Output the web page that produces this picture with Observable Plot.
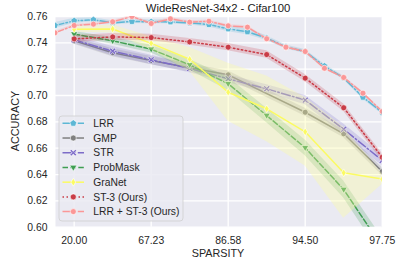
<!DOCTYPE html>
<html><head><meta charset="utf-8">
<script src="https://cdn.jsdelivr.net/npm/d3@7"></script>
<script src="https://cdn.jsdelivr.net/npm/@observablehq/plot@0.6"></script>
<style>
body{margin:0;background:#fff}
#chart{position:relative;width:407px;height:271px}
</style>
</head><body><div id="chart"></div>
<script>
// ---------- data ----------
const title = "WideResNet-34x2 - Cifar100";
const xLabel = "SPARSITY";
const yLabel = "ACCURACY";
const xTickPos = [0, 4, 8, 12, 16];
const xTickLabels = ["20.00", "67.23", "86.58", "94.50", "97.75"];
const yTicks = [0.60, 0.62, 0.64, 0.66, 0.68, 0.70, 0.72, 0.74, 0.76];
const seriesNames = ["LRR", "GMP", "STR", "ProbMask", "GraNet", "ST-3 (Ours)", "LRR + ST-3 (Ours)"];

const idxFull = [-1, 0, 1, 2, 3, 4, 5, 6, 7, 8, 9, 10, 11, 12, 13, 14, 15, 16];
const idxEven = [0, 2, 4, 6, 8, 10, 12, 14, 16];
const idxGMP  = [0, 2, 4, 6, 8, 12, 14, 16];

const accLRR = [0.7532, 0.7567, 0.7575, 0.7552, 0.7562, 0.7560, 0.7559, 0.7551, 0.7539, 0.7506, 0.7484, 0.7436, 0.7369, 0.7334, 0.7223, 0.7134, 0.6987, 0.6871];
const errLRR = [0.0022, 0.0020, 0.0015, 0.0015, 0.0015, 0.0015, 0.0015, 0.0015, 0.0018, 0.0022, 0.0022, 0.0018, 0.0015, 0.0015, 0.0015, 0.0015, 0.0015, 0.0015];

const accLRRST3 = [0.7476, 0.7532, 0.7542, 0.7560, 0.7600, 0.7547, 0.7582, 0.7557, 0.7564, 0.7529, 0.7519, 0.7431, 0.7367, 0.7334, 0.7207, 0.7137, 0.7018, 0.6879];
const errLRRST3 = [0.0010, 0.0010, 0.0010, 0.0010, 0.0010, 0.0010, 0.0010, 0.0010, 0.0010, 0.0010, 0.0010, 0.0010, 0.0010, 0.0010, 0.0010, 0.0010, 0.0010, 0.0010];

const accST3 = [0.7430, 0.7445, 0.7440, 0.7407, 0.7367, 0.7311, 0.7132, 0.6907, 0.6532];
const errST3 = [0.0025, 0.0025, 0.0025, 0.0025, 0.0028, 0.0028, 0.0028, 0.0028, 0.0028];

const accGMP = [0.7415, 0.7325, 0.7265, 0.7210, 0.7157, 0.6873, 0.6709, 0.6423];
const errGMP = [0.0025, 0.0030, 0.0032, 0.0032, 0.0030, 0.0030, 0.0030, 0.0030];

const accSTR = [0.7423, 0.7337, 0.7271, 0.7205, 0.7127, 0.7051, 0.6965, 0.6744, 0.6507];
const errSTR = [0.0028, 0.0035, 0.0035, 0.0032, 0.0030, 0.0030, 0.0035, 0.0040, 0.0040];

const accProbMask = [0.7466, 0.7415, 0.7352, 0.7233, 0.7089, 0.6848, 0.6603, 0.6286, 0.5850];
const errProbMask = [0.0020, 0.0025, 0.0030, 0.0040, 0.0050, 0.0055, 0.0060, 0.0065, 0.0070];

const accGraNet = [0.7503, 0.7505, 0.7396, 0.7275, 0.7025, 0.6899, 0.6724, 0.6413, 0.6365];
const errGraNet = [0.0020, 0.0030, 0.0050, 0.0090, 0.0220, 0.0250, 0.0260, 0.0345, 0.0040];

// ---------- styles ----------
const sym = pts => ({draw(ctx, size) {
  const r = Math.sqrt(size / Math.PI);
  pts.forEach(([a, b], i) => i ? ctx.lineTo(a * r, b * r) : ctx.moveTo(a * r, b * r));
  ctx.closePath();
}});
const pentagon = sym(d3.range(5).map(k => { const t = -Math.PI / 2 + k * 2 * Math.PI / 5; return [1.2 * Math.cos(t), 1.2 * Math.sin(t)]; }));
const triDown = sym([[-1.2, -0.75], [1.2, -0.75], [0, 1.25]]);
const thinDiamond = sym([[0, -1.3], [0.8, 0], [0, 1.3], [-0.8, 0]]);
const xFilled = (() => {
  const t = 0.32, a = 1.25;
  const p = [[t,-a],[t,-t],[a,-t],[a,t],[t,t],[t,a],[-t,a],[-t,t],[-a,t],[-a,-t],[-t,-t],[-t,-a]];
  const c = Math.SQRT1_2;
  return sym(p.map(([x, y]) => [c * (x - y), c * (x + y)]));
})();
const circleSym = d3.symbolCircle;

const dashdot = "9,2.4,1.5,2.4", dashed = "5.5,2.4", dotted = "1.5,2.5";
const styles = {
  "LRR":               {color: "#5db7d5", band: "#5db7d5", op: 0.22, dash: dashdot, sym: pentagon},
  "GMP":               {color: "#808080", band: "#808080", op: 0.22, dash: null, sym: circleSym},
  "STR":               {color: "#7d6cc8", band: "#7d6cc8", op: 0.22, dash: dashdot, sym: xFilled},
  "ProbMask":          {color: "#3f9e52", band: "#3f9e52", op: 0.22, dash: dashed, sym: triDown},
  "GraNet":            {color: "#fbfb62", band: "#ffff99", op: 0.32, dash: null, sym: thinDiamond},
  "ST-3 (Ours)":       {color: "#c93c47", band: "#c93c47", op: 0.22, dash: dotted, sym: circleSym},
  "LRR + ST-3 (Ours)": {color: "#fb9797", band: "#fb9797", op: 0.22, dash: dashdot, sym: circleSym}
};

const seriesData = {
  "LRR": [idxFull, accLRR, errLRR],
  "GMP": [idxGMP, accGMP, errGMP],
  "STR": [idxEven, accSTR, errSTR],
  "ProbMask": [idxEven, accProbMask, errProbMask],
  "GraNet": [idxEven, accGraNet, errGraNet],
  "ST-3 (Ours)": [idxEven, accST3, errST3],
  "LRR + ST-3 (Ours)": [idxFull, accLRRST3, errLRRST3]
};

const rowsOf = name => {
  const [xs, ys, es] = seriesData[name];
  return xs.map((x, i) => ({series: name, x, y: ys[i], lo: ys[i] - es[i], hi: ys[i] + es[i]}));
};

const W = 407, H = 271;
const mL = 55, mR = 25.3, mT = 16, mB = 44.3;
const font = "'Liberation Sans', Arial, sans-serif";

const marks = [
  Plot.frame({fill: "#eaeaf2", stroke: null}),
  Plot.gridX(xTickPos, {stroke: "#ffffff", strokeOpacity: 1, strokeWidth: 1.3}),
  Plot.gridY(yTicks, {stroke: "#ffffff", strokeOpacity: 1, strokeWidth: 1.3}),
  Plot.axisX(xTickPos, {tickSize: 0, tickPadding: 9, fontSize: 10.4, tickFormat: v => xTickLabels[xTickPos.indexOf(v)], label: null, fill: "#262626"}),
  Plot.axisY(yTicks, {tickSize: 0, tickPadding: 8, fontSize: 10.4, tickFormat: d3.format(".2f"), label: null, fill: "#262626"})
];
for (const name of seriesNames) {
  const st = styles[name];
  const rows = rowsOf(name);
  marks.push(Plot.areaY(rows, {x: "x", y1: "lo", y2: "hi", fill: st.band, fillOpacity: st.op, clip: true}));
  marks.push(Plot.line(rows, {x: "x", y: "y", stroke: st.color, strokeWidth: 1.5, strokeDasharray: st.dash, clip: true}));
  marks.push(Plot.dot(rows, {x: "x", y: "y", r: 3, symbol: st.sym, fill: st.color, stroke: "#ffffff", strokeWidth: 0.6, clip: true}));
}

const chart = Plot.plot({
  width: W, height: H,
  marginLeft: mL, marginRight: mR, marginTop: mT, marginBottom: mB,
  style: {background: "transparent", fontFamily: font, fontSize: "10.4px", color: "#262626"},
  x: {domain: [-0.97, 16], axis: null},
  y: {domain: [0.60, 0.76], axis: null},
  marks
});
document.getElementById("chart").appendChild(chart);

// ---------- title, axis labels, legend ----------
const svg = d3.select(chart);
svg.append("text").attr("x", 218).attr("y", 12).attr("text-anchor", "middle")
  .attr("font-family", font).attr("font-size", 11.3).attr("fill", "#1a1a1a").text(title);
svg.append("text").attr("x", 218).attr("y", 257).attr("text-anchor", "middle")
  .attr("font-family", font).attr("font-size", 10.8).attr("fill", "#262626").text(xLabel);
svg.append("text").attr("transform", "translate(19,121) rotate(-90)").attr("text-anchor", "middle")
  .attr("font-family", font).attr("font-size", 10.8).attr("fill", "#262626").text(yLabel);

const lg = svg.append("g");
lg.append("rect").attr("x", 59).attr("y", 116).attr("width", 124).attr("height", 105).attr("rx", 3)
  .attr("fill", "#eaeaf2").attr("fill-opacity", 0.85).attr("stroke", "#cfcfcf").attr("stroke-width", 0.8);
seriesNames.forEach((name, i) => {
  const st = styles[name];
  const y = 123.3 + i * 14.72;
  lg.append("line").attr("x1", 62.5).attr("x2", 84).attr("y1", y).attr("y2", y)
    .attr("stroke", st.color).attr("stroke-width", 1.5).attr("stroke-dasharray", st.dash);
  lg.append("path").attr("transform", `translate(73.3,${y})`)
    .attr("d", d3.symbol().type(st.sym).size(9 * Math.PI)())
    .attr("fill", st.color).attr("stroke", "#fff").attr("stroke-width", 0.6);
  lg.append("text").attr("x", 93.3).attr("y", y).attr("dy", "0.36em").attr("text-anchor", "start")
    .attr("font-family", font).attr("font-size", 10.3).attr("fill", "#262626").text(name);
});
</script>
</body></html>
